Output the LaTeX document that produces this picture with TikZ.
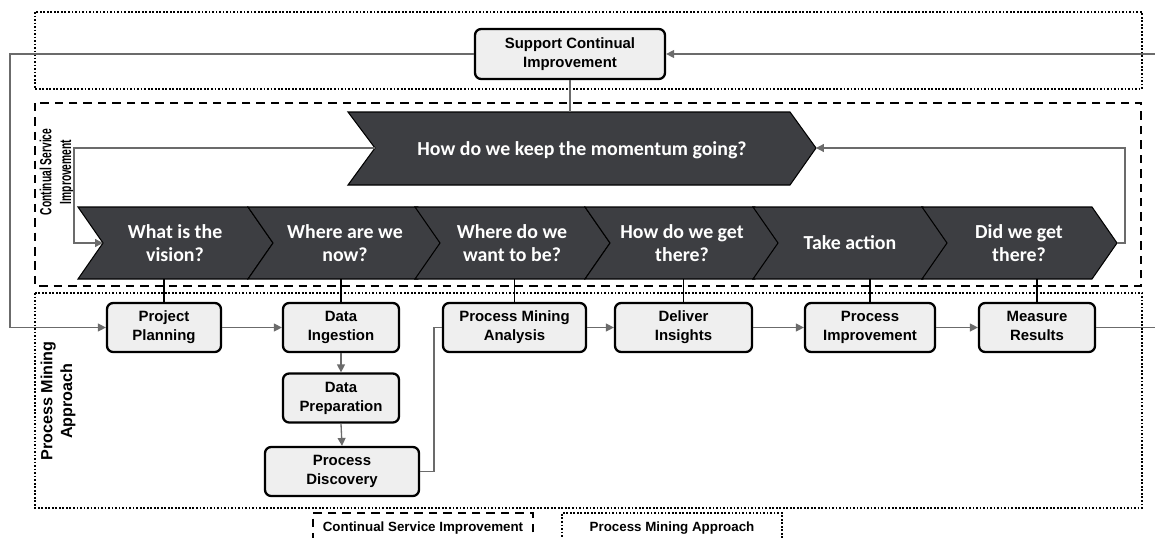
\documentclass[tikz,border=0pt]{standalone}
\usepackage{fontspec}
\usepackage{xcolor}
\usepackage{tikz}
\usetikzlibrary{arrows.meta}
\setmainfont{Liberation Sans}
\newfontfamily\chevfont{Carlito}
\definecolor{chevgray}{HTML}{3D3E42}
\definecolor{boxgray}{HTML}{EFEFEF}
\definecolor{linkgray}{HTML}{6B6B6B}

\begin{document}
\begin{tikzpicture}[x=0.02cm,y=-0.02cm,
        >={Triangle[length=4.5pt,width=4.5pt]},
        pbox/.style={rectangle,draw,line width=1.3pt,rounded corners=3.5pt,
                    fill=boxgray,minimum height=0.98cm,inner sep=1pt,text depth=1.8pt,
                    align=center,font=\bfseries\fontsize{8.5}{10.8}\selectfont},
        chev/.style={draw=black,line width=0.6pt,fill=chevgray},
        chevtext/.style={align=center,text=white,
                    font=\chevfont\bfseries\fontsize{11.3}{13}\selectfont},
        link/.style={draw=linkgray,line width=0.75pt},
        tie/.style={draw=black,line width=1pt},
        dotframe/.style={line width=1.15pt,dash pattern=on 1pt off 1pt},
        dashframe/.style={line width=1.6pt,dash pattern=on 4.8pt off 3.4pt},
        sidelabel/.style={rotate=90,align=center,font=\bfseries\fontsize{9.2}{11.2}\selectfont}]
      \useasboundingbox (0,0) rectangle (1155,537);
      %% ── Frames ──────────────────────────────────────────
      \draw[dotframe]  (35,12)  rectangle (1142,89);
      \draw[dashframe] (35,103) rectangle (1141,286);
      \draw[dotframe]  (35,293) rectangle (1142,508);
      %% ── Side labels ─────────────────────────────────────
      \node[sidelabel] (csil) at (57,172)
            {\scalebox{0.635}[1]{Continual Service}\\\scalebox{0.635}[1]{Improvement}};
      \node[sidelabel] (pmal) at (58,401) {Process Mining\\Approach};
      %% ── Momentum chevron ────────────────────────────────
      \draw[chev] (348,112) -- (790,112) -- (816,148) -- (790,185) -- (348,185) -- (375,148) -- cycle;
      \node[chevtext] (mom) at (582,150) {How do we keep the momentum going?};
      \coordinate (momL) at (375,148);
      \coordinate (momR) at (816,148);
      \coordinate (momT) at (570,112);
      %% ── Question chevrons ───────────────────────────────
      \foreach \lx/\txt [count=\i] in {78/{What is the\\vision?},248/{Where are we\\now?},
            415/{Where do we\\want to be?},585/{How do we get\\there?},
            753/{Take action},922/{Did we get\\there?}}{
        \draw[chev] (\lx,207) -- ++(170,0) -- ++(25,36) -- ++(-25,36) -- ++(-170,0) -- ++(25,-36) -- cycle;
        \node[chevtext] (q\i) at (\lx+97,243) {\txt};
        \coordinate (q\i b) at (\lx+96,279);
      }
      \coordinate (q1w) at (103,243);
      \coordinate (q6e) at (1117,243);
      %% ── Process boxes ───────────────────────────────────
      \node[pbox,minimum width=3.8cm,minimum height=1.0cm] (sci) at (570,54) {Support Continual\\Improvement};
      \node[pbox,minimum width=2.28cm] (pp)   at (164,327.5)  {Project\\Planning};
      \node[pbox,minimum width=2.32cm] (di)   at (341,327.5)  {Data\\Ingestion};
      \node[pbox,minimum width=2.32cm] (dp)   at (341,398)    {Data\\Preparation};
      \node[pbox,minimum width=3.08cm] (pd)   at (342,471.5)  {Process\\Discovery};
      \node[pbox,minimum width=2.86cm] (pma)  at (514.5,327.5){Process Mining\\Analysis};
      \node[pbox,minimum width=2.74cm] (dins) at (683.5,327.5){Deliver\\Insights};
      \node[pbox,minimum width=2.6cm]  (pimp) at (870,327.5)  {Process\\Improvement};
      \node[pbox,minimum width=2.32cm] (mr)   at (1037,327.5) {Measure\\Results};
      \coordinate (lft) at (10,327.5);
      \coordinate (rgtT) at (1155,54);
      \coordinate (rgtB) at (1155,327.5);
      %% ── Chevrons → boxes ────────────────────────────────
      \draw[tie] (pp.north)   -- (pp.north |- q1b);
      \draw[tie] (di.north)   -- (di.north |- q2b);
      \draw[tie] (pma.north)  -- (pma.north |- q3b);
      \draw[tie] (dins.north) -- (dins.north |- q4b);
      \draw[tie] (pimp.north) -- (pimp.north |- q5b);
      \draw[tie] (mr.north)   -- (mr.north |- q6b);
      \draw[link,line width=0.9pt] (sci.south) -- (momT);
      %% ── Feedback loops ──────────────────────────────────
      \draw[link,->] (momL) -- ++(-301,0) |- (q1w);
      \draw[link,->] (q6e) -- ++(8,0) |- (momR);
      \draw[link,->] (sci.west) -| (lft) -- (pp.west);
      \draw[link,->] (rgtT) -- (sci.east);
      %% ── Process flow ────────────────────────────────────
      \draw[link,->] (pp.east) -- (di.west);
      \draw[link,->] (di.south) -- (dp.north);
      \draw[link,->] (dp.south) -- (pd.north);
      \draw[link] (pd.east) -- ++(14,0) |- (pma.west);
      \draw[link,->] (pma.east) -- (dins.west);
      \draw[link,->] (dins.east) -- (pimp.west);
      \draw[link,->] (pimp.east) -- (mr.west);
      \draw[link] (mr.east) -- (rgtB);
      %% ── Legend ──────────────────────────────────────────
      \node[draw,dashframe,minimum width=4.4cm,minimum height=0.6cm,
            font=\bfseries\fontsize{7.6}{9}\selectfont] (lcsi) at (423,528) {Continual Service Improvement};
      \node[draw,dotframe,minimum width=4.4cm,minimum height=0.6cm,
            font=\bfseries\fontsize{7.6}{9}\selectfont] (lpma) at (672,528) {Process Mining Approach};
    \end{tikzpicture}
\end{document}
